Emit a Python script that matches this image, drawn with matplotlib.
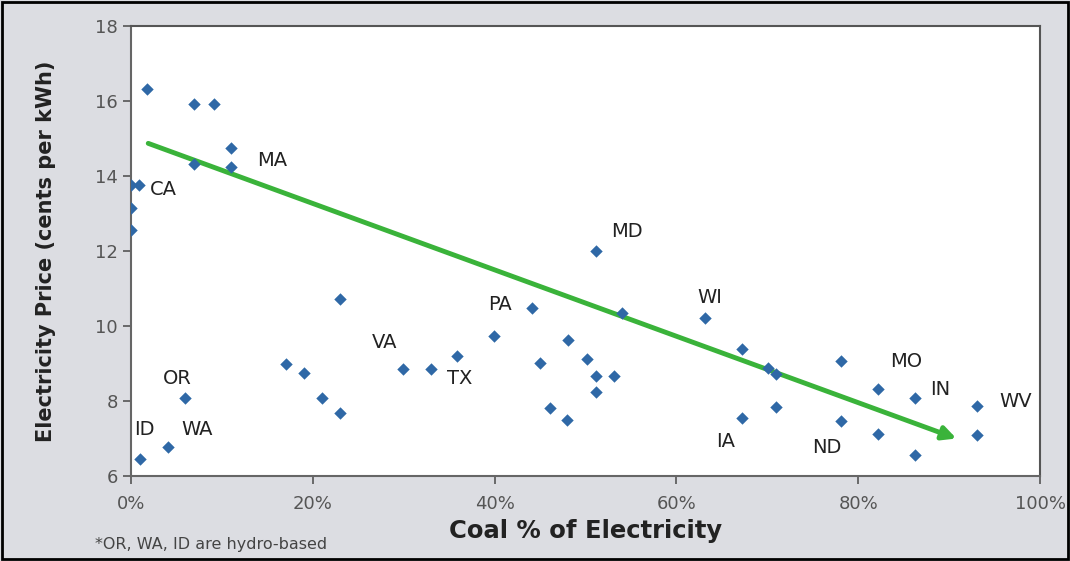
import matplotlib
matplotlib.use("Agg")
from matplotlib import pyplot as plt
from matplotlib.patches import Rectangle

plt.rcParams['font.family'] = ['DejaVu Sans']

# coal share of electricity (%) and price (cents per kWh)
coal_pct = [1.8, 6.9, 9.1, 11.0, 6.9, 11.0, 0.0, 0.9, 0.0, 0.0,
            23.0, 17.1, 19.0, 21.0, 23.0, 5.9, 4.1, 1.0,
            29.9, 33.0, 35.9, 39.9, 44.1, 51.1, 54.0, 48.1, 45.0, 50.2,
            51.2, 53.1, 51.2, 46.1, 48.0,
            63.1, 67.2, 70.1, 71.0, 71.0, 67.2, 78.1, 78.1, 82.2, 82.2,
            86.2, 86.2, 93.1, 93.1]
price = [16.31, 15.93, 15.93, 14.74, 14.33, 14.25, 13.77, 13.77, 13.15, 12.57,
         10.71, 8.98, 8.74, 8.07, 7.67, 8.07, 6.77, 6.45,
         8.85, 8.85, 9.21, 9.73, 10.47, 11.99, 10.35, 9.63, 9.02, 9.11,
         8.67, 8.67, 8.23, 7.81, 7.49,
         10.21, 9.39, 8.87, 8.72, 7.85, 7.54, 9.07, 7.47, 8.32, 7.11,
         8.07, 6.56, 7.87, 7.09]

state_names = ["MA", "CA", "MD", "PA", "WI", "VA", "TX", "OR", "ID", "WA",
               "IA", "ND", "MO", "IN", "WV"]
state_x = [13.9, 2.1, 52.8, 39.3, 62.3, 26.5, 34.8, 3.5, 0.3, 5.5,
           64.4, 74.9, 83.5, 87.9, 95.5]
state_y = [14.4, 13.63, 12.53, 10.56, 10.75, 9.57, 8.61, 8.59, 7.23, 7.23,
           6.93, 6.77, 9.04, 8.32, 8.0]

trend_start = (1.9, 14.87)
trend_end = (90.8, 7.0)

fig = plt.figure(figsize=(10.7, 5.61), dpi=100, facecolor="#dcdde2")
fig.patches.append(Rectangle((0.002, 0.003), 0.996, 0.994, transform=fig.transFigure,
                             fill=False, edgecolor="black", linewidth=2))
ax = fig.add_axes([0.1224, 0.1515, 0.8496, 0.8022])
ax.set_facecolor("white")

ax.scatter(coal_pct, price, marker="D", s=40, color="#2f68a6", zorder=3, linewidths=0)
ax.annotate("", xy=trend_end, xytext=trend_start,
            arrowprops=dict(arrowstyle="-|>", color="#3ab33a", lw=3.5,
                            mutation_scale=20, shrinkA=0, shrinkB=0), zorder=2)

for name, tx, ty in zip(state_names, state_x, state_y):
    ax.text(tx, ty, name, fontsize=14, color="#222222", ha="left", va="center",
            clip_on=False)

ax.set_xlim(0, 100)
ax.set_ylim(6, 18)
ax.set_xticks(range(0, 101, 20))
ax.set_xticklabels([f"{v}%" for v in range(0, 101, 20)])
ax.set_yticks(range(6, 19, 2))
ax.tick_params(labelsize=13, colors="#555555", length=6, width=1.2)
ax.tick_params(axis="x", pad=8)
for side in ["left", "bottom"]:
    ax.spines[side].set_color("#666666")
    ax.spines[side].set_linewidth(1.5)
for side in ["top", "right"]:
    ax.spines[side].set_color("#555555")
    ax.spines[side].set_linewidth(1.5)

ax.set_xlabel("Coal % of Electricity", fontsize=17.5, fontweight="bold", color="#222222", labelpad=4)
ax.set_ylabel("Electricity Price (cents per kWh)", fontsize=15, fontweight="bold", color="#222222", labelpad=28)
fig.text(0.089, 0.022, "*OR, WA, ID are hydro-based", fontsize=11.5, color="#444444")

plt.savefig("out.png", dpi=100, facecolor=fig.get_facecolor())
